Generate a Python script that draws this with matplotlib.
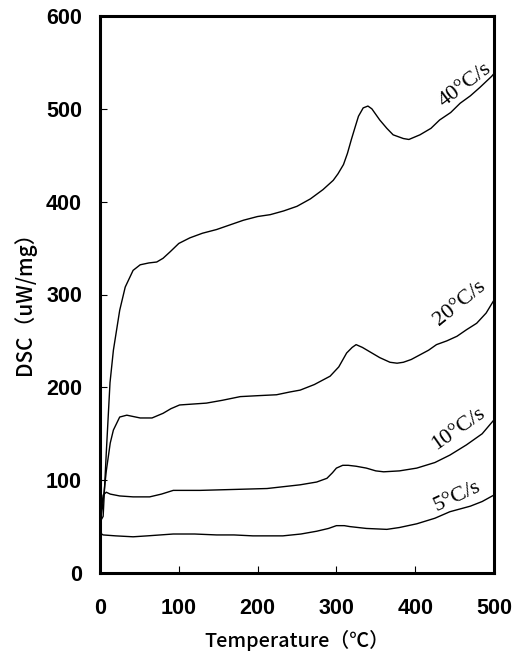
import matplotlib
matplotlib.use("Agg")
import matplotlib.pyplot as plt

# ---- data ----
x40 = [0, 2, 4, 8, 12.7, 17, 25, 32, 42, 51, 62, 72, 80, 89, 100, 114, 130, 148, 165, 182, 200, 216, 233,
       250, 267, 283, 296, 302, 309, 314, 319, 324, 328, 334, 340, 345, 350, 355, 364, 372, 385, 392, 406,
       420, 431, 445, 457, 470, 482, 497, 500]
y40 = [55, 58, 61, 130, 205, 240, 283, 308, 326, 332, 334, 335, 339, 346, 355, 361, 366, 370, 375, 380, 384,
       386, 390, 395, 403, 413, 423, 430, 440, 452, 467, 481, 492, 501, 503, 500, 494, 488, 479, 472, 468,
       467, 472, 479, 488, 496, 506, 514, 523, 535, 538]

x20 = [0, 3, 8, 13, 17, 25, 34, 51, 66, 80, 90, 101, 118, 135, 155, 178, 200, 224, 241, 254, 272, 292, 303,
       313, 320, 325, 333, 343, 355, 368, 377, 385, 395, 406, 417, 427, 440, 453, 465, 478, 490, 500]
y20 = [55, 70, 110, 140, 154, 168, 170, 167, 167, 172, 177, 181, 182, 183, 186, 190, 191, 192, 195, 197, 203,
       212, 222, 237, 243, 246, 243, 238, 232, 227, 226, 227, 230, 235, 240, 246, 250, 255, 262, 269, 280, 294]

x10 = [0, 2, 4, 8, 13, 25, 42, 63, 78, 93, 110, 127, 170, 212, 254, 275, 288, 295, 300, 308, 315, 325, 338,
       350, 360, 380, 402, 425, 444, 465, 485, 500]
y10 = [55, 70, 84, 87, 85, 83, 82, 82, 85, 89, 89, 89, 90, 91, 95, 98, 102, 108, 113, 116, 116, 115, 113,
       110, 109, 110, 113, 119, 127, 138, 150, 165]

x5 = [0, 2, 4, 20, 42, 60, 93, 120, 148, 170, 194, 232, 255, 275, 290, 300, 310, 317, 338, 364, 380, 402,
      425, 444, 470, 485, 500]
y5 = [50, 42, 41, 40, 39, 40, 42, 42, 41, 41, 40, 40, 42, 45, 48, 51, 51, 50, 48, 47, 49, 53, 59, 66, 72,
      77, 84]

series = [(x40, y40), (x20, y20), (x10, y10), (x5, y5)]
rate_labels = ["40°C/s", "20°C/s", "10°C/s", "5°C/s"]
label_pos = [(463, 526), (457, 290), (455, 155), (453, 82)]
label_rot = [37, 39, 35, 25]

xticks = [0, 100, 200, 300, 400, 500]
yticks = [0, 100, 200, 300, 400, 500, 600]

fig = plt.figure(figsize=(5.14, 6.55), dpi=100)
ax = fig.add_axes([100 / 514, 1 - 573 / 655, 394 / 514, (573 - 16) / 655])

for xs, ys in series:
    ax.plot(xs, ys, color="black", lw=1.0)

for (tx, ty), lab, rot in zip(label_pos, rate_labels, label_rot):
    ax.text(tx, ty, lab, rotation=rot, ha="center", va="center",
            family="Liberation Serif", fontsize=16, rotation_mode="anchor")

ax.set_xlim(0, 500)
ax.set_ylim(0, 600)
ax.set_xticks(xticks)
ax.set_yticks(yticks)
ax.tick_params(direction="in", length=5, width=0.8, labelsize=15.5)
ax.tick_params(axis="y", pad=13)
ax.tick_params(axis="x", pad=18)
for lbl in ax.get_xticklabels() + ax.get_yticklabels():
    lbl.set_fontweight("bold")
    lbl.set_family("Liberation Sans")
for sp in ax.spines.values():
    sp.set_linewidth(2.2)

ax.set_xlabel("Temperature（℃）", family=["Noto Sans CJK JP", "DejaVu Sans"], fontsize=14.3,
              fontweight="medium", labelpad=8)
ax.set_ylabel("DSC（uW/mg）", family=["Noto Sans CJK JP", "DejaVu Sans"], fontsize=15,
              fontweight="medium")
ax.yaxis.set_label_coords(-0.163, 0.494)

fig.savefig("out.png", dpi=100)
